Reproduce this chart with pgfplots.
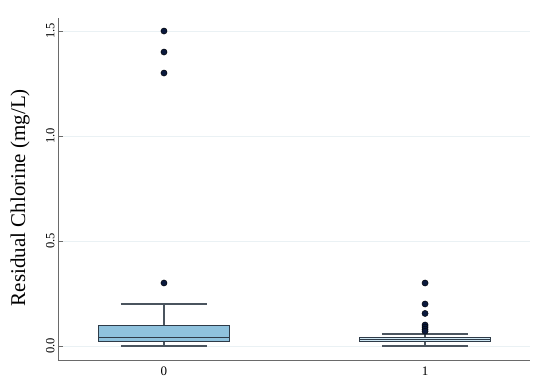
\documentclass[border=0pt]{standalone}
\usepackage{pgfplots}
\pgfplotsset{compat=1.18}
\usepgfplotslibrary{statistics}
\usepackage{fontspec}
\setmainfont{Liberation Serif}
\definecolor{boxA}{HTML}{8FC2DD}
\definecolor{boxB}{HTML}{CFE7F3}
\definecolor{edge}{HTML}{2E3B48}
\definecolor{whisk}{HTML}{4A545E}
\definecolor{dot}{HTML}{0B1A3D}
\definecolor{gridc}{HTML}{EAF1F4}
\definecolor{axc}{HTML}{6A6A6A}
\begin{document}
\begin{tikzpicture}
\path[use as bounding box] (-58pt,-25pt) rectangle (492pt,360pt);
\begin{axis}[
  at={(0pt,0pt)}, anchor=south west,
  scale only axis, width=472pt, height=342pt,
  xmin=-0.406, xmax=1.402,
  ymin=-0.0667, ymax=1.562,
  boxplot/draw direction=y,
  axis x line*=bottom, axis y line*=left,
  axis line style={axc, line width=0.8pt},
  xtick={0,1}, xticklabels={0,1},
  ytick={0,0.5,1,1.5},
  yticklabel style={rotate=90, /pgf/number format/.cd, fixed, fixed zerofill, precision=1},
  /pgf/number format/assume math mode=true,
  ticklabel style={font=\fontsize{12.5}{12.5}\selectfont, text=black},
  x tick label style={font=\fontsize{13}{13}\selectfont, yshift=-3pt},
  tick style={axc, line width=0.8pt},
  major tick length=5pt,
  xtick style={draw=none},
  ymajorgrids, grid style={gridc, line width=0.8pt},
  ylabel={Residual Chlorine (mg/L)},
  ylabel style={font=\fontsize{21}{21}\selectfont, at={(axis description cs:-0.0805,0.475)}, anchor=center},
  clip=false,
]
\addplot[draw=edge, line width=1pt, fill=boxA,
  boxplot prepared={draw position=0, median=0.04, lower quartile=0.022, upper quartile=0.097,
    lower whisker=0, upper whisker=0.2, box extend=0.5, whisker extend=0.33},
  boxplot/every whisker/.style={draw=whisk, line width=1.4pt},
  boxplot/every median/.style={draw=edge, line width=1.2pt}]
  coordinates {};
\addplot[draw=edge, line width=1pt, fill=boxB,
  boxplot prepared={draw position=1, median=0.03, lower quartile=0.02, upper quartile=0.041,
    lower whisker=0, upper whisker=0.057, box extend=0.5, whisker extend=0.33},
  boxplot/every whisker/.style={draw=whisk, line width=1.4pt},
  boxplot/every median/.style={draw=edge, line width=0.6pt}]
  coordinates {};
\addplot[only marks, mark=*, mark size=3.1pt, mark options={fill=dot, draw=black}]
  coordinates {(0,0.3) (0,1.3) (0,1.4) (0,1.5)
               (1,0.3) (1,0.2) (1,0.155) (1,0.1) (1,0.09) (1,0.08) (1,0.07)};
\end{axis}
\end{tikzpicture}
\end{document}
